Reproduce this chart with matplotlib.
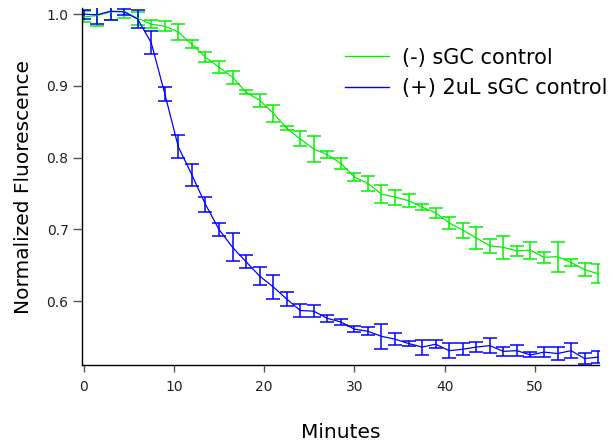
import matplotlib as mpl
mpl.use('Agg')
import matplotlib.pyplot as plt
from matplotlib.lines import Line2D

# time points (minutes)
minutes = [0, 1.5, 3, 4.5, 6, 7.5, 9, 10.5, 12, 13.5, 15, 16.5, 18, 19.5,
           21, 22.5, 24, 25.5, 27, 28.5, 30, 31.5, 33, 34.5, 36, 37.5, 39,
           40.5, 42, 43.5, 45, 46.5, 48, 49.5, 51, 52.5, 54, 55.5, 57]

# (-) sGC control
neg_mean = [0.996, 0.998, 1.003, 1.004, 0.994, 0.986, 0.983, 0.975, 0.958,
            0.940, 0.926, 0.912, 0.891, 0.880, 0.862, 0.841, 0.826, 0.812,
            0.804, 0.792, 0.773, 0.764, 0.749, 0.745, 0.740, 0.731, 0.723,
            0.709, 0.699, 0.688, 0.677, 0.675, 0.670, 0.671, 0.661, 0.662,
            0.654, 0.644, 0.638]
neg_err = [0.0077, 0.015, 0.0107, 0.0093, 0.0093, 0.0058, 0.0067, 0.0107,
           0.0058, 0.007, 0.0088, 0.0088, 0.003, 0.0088, 0.012, 0.0028,
           0.0104, 0.018, 0.005, 0.0077, 0.005, 0.011, 0.0128, 0.0104,
           0.009, 0.0044, 0.0074, 0.0088, 0.0104, 0.015, 0.01, 0.016,
           0.007, 0.0116, 0.0072, 0.021, 0.0053, 0.0088, 0.0132]

# (+) 2uL sGC control
pos_mean = [1.000, 0.999, 1.004, 1.003, 0.993, 0.960, 0.889, 0.815, 0.776,
            0.735, 0.700, 0.675, 0.655, 0.635, 0.620, 0.603, 0.587, 0.586,
            0.576, 0.571, 0.561, 0.558, 0.551, 0.547, 0.541, 0.536, 0.540,
            0.531, 0.533, 0.536, 0.538, 0.530, 0.531, 0.525, 0.529, 0.527,
            0.531, 0.520, 0.522]
pos_err = [0.0063, 0.0128, 0.0116, 0.004, 0.0123, 0.016, 0.01, 0.016, 0.015,
           0.0104, 0.0093, 0.0197, 0.0088, 0.0123, 0.0167, 0.0104, 0.0093,
           0.0086, 0.0046, 0.0042, 0.0044, 0.0058, 0.017, 0.0081, 0.0037,
           0.0104, 0.0058, 0.0104, 0.0081, 0.0072, 0.0109, 0.0058, 0.0072,
           0.0035, 0.0074, 0.0097, 0.0104, 0.0074, 0.0086]

labels = ['(-) sGC control', '(+) 2uL sGC control']
colors = ['#00f000', '#0000ff']

xticks = [0, 10, 20, 30, 40, 50]
yticks = [0.6, 0.7, 0.8, 0.9, 1.0]

fig = plt.figure(figsize=(6.13, 4.47), dpi=100)
ax = fig.add_axes([0.1333, 0.1834, 0.844, 0.7986])

for m, e, c in [(neg_mean, neg_err, colors[0]), (pos_mean, pos_err, colors[1])]:
	ax.errorbar(minutes, m, yerr=e, color=c, lw=0.9, elinewidth=1.1,
		capsize=4.8, capthick=1.1)

ax.set_xlim(-0.2, 57.1)
ax.set_ylim(0.511, 1.0084)
ax.set_xticks(xticks)
ax.set_xticklabels([str(t) for t in xticks])
ax.set_yticks(yticks)
ax.set_yticklabels(['%.1f' % t for t in yticks])

for s in ['top', 'right']:
	ax.spines[s].set_visible(False)
for s in ['left', 'bottom']:
	ax.spines[s].set_linewidth(1.0)
	ax.spines[s].set_color('black')

ax.tick_params(axis='x', direction='out', length=5, width=1, color='#555555',
	labelsize=10, pad=6, labelcolor='#222222')
ax.tick_params(axis='y', direction='out', length=6.5, width=1, color='#555555',
	labelsize=10, pad=3, labelcolor='#222222')

ax.set_xlabel('Minutes', fontsize=14.5, labelpad=21)
ax.set_ylabel('Normalized Fluorescence', fontsize=14.5, labelpad=10)

handles = [Line2D([], [], color=c, lw=1.0) for c in colors]
ax.legend(handles, labels, loc='upper left', bbox_to_anchor=(0.508, 0.889),
	frameon=False, fontsize=15, handlelength=2.15, handletextpad=0.6,
	labelspacing=0.5, borderaxespad=0, borderpad=0)

plt.savefig('out.png', dpi=100)
